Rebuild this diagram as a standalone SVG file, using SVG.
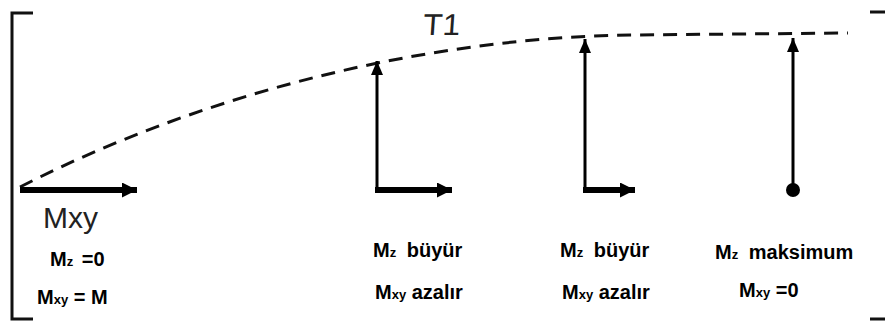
<svg xmlns="http://www.w3.org/2000/svg" width="885" height="325" viewBox="0 0 885 325">
<defs>
<style>
.frame{fill:none;stroke:#111;stroke-width:3}
.curve{fill:none;stroke:#111;stroke-width:3;stroke-dasharray:14 9}
.thick{fill:none;stroke:#000;stroke-width:6}
.thin{fill:none;stroke:#000;stroke-width:3}
.lbl{font-family:"Liberation Sans",Arial,sans-serif;font-weight:bold;font-size:20px;fill:#000}
.sub{font-size:13px}
.big{font-family:"Liberation Sans",Arial,sans-serif;font-size:30px;fill:#222}
</style>
<marker id="hH" viewBox="0 0 15 15" refX="15" refY="7.5" markerWidth="15" markerHeight="15" markerUnits="userSpaceOnUse" orient="auto"><path d="M0,0 L15,7.5 L0,15 Z" fill="#000"/></marker>
<marker id="hV" viewBox="0 0 14 12" refX="14" refY="6" markerWidth="14" markerHeight="12" markerUnits="userSpaceOnUse" orient="auto"><path d="M0,0 L14,6 L0,12 Z" fill="#000"/></marker>
</defs>
<rect width="885" height="325" fill="#fff"/>
<g id="frame">
<path class="frame" d="M33,13 H12 V319 H33"/>
<path class="frame" d="M870,12 H885 M870,319 H885"/>
</g>
<g id="connectors">
<path id="T1-curve" class="curve" d="M20,187 C200,95 420,38 630,35 L848,33"/>
</g>
<g id="label-T1"><text class="big" x="423" y="35" font-size="30" textLength="37" lengthAdjust="spacingAndGlyphs" transform="skewX(-4) translate(2,0)">T1</text></g>
<g id="node-1">
<path class="thick" d="M20,190 H137" marker-end="url(#hH)"/>
<text class="big" x="43" y="228">Mxy</text>
<text class="lbl" x="50" y="266">M<tspan class="sub">z</tspan><tspan dx="3"> =0</tspan></text>
<text class="lbl" x="37" y="304">M<tspan class="sub">xy</tspan> = M</text>
</g>
<g id="node-2">
<path class="thin" d="M377,190 V61" marker-end="url(#hV)"/>
<path class="thick" d="M375,190 H452" marker-end="url(#hH)"/>
<text class="lbl" x="373" y="257">M<tspan class="sub">z</tspan><tspan dx="5"> büyür</tspan></text>
<text class="lbl" x="375" y="299">M<tspan class="sub">xy</tspan> azalır</text>
</g>
<g id="node-3">
<path class="thin" d="M585,190 V39" marker-end="url(#hV)"/>
<path class="thick" d="M583,190 H635" marker-end="url(#hH)"/>
<text class="lbl" x="560" y="257">M<tspan class="sub">z</tspan><tspan dx="5"> büyür</tspan></text>
<text class="lbl" x="562" y="299">M<tspan class="sub">xy</tspan> azalır</text>
</g>
<g id="node-4">
<path class="thin" d="M793,190 V38" marker-end="url(#hV)"/>
<circle cx="793" cy="190" r="7" fill="#000"/>
<text class="lbl" x="715" y="259">M<tspan class="sub">z</tspan><tspan dx="5"> maksimum</tspan></text>
<text class="lbl" x="739" y="297">M<tspan class="sub">xy</tspan> =0</text>
</g>
</svg>
